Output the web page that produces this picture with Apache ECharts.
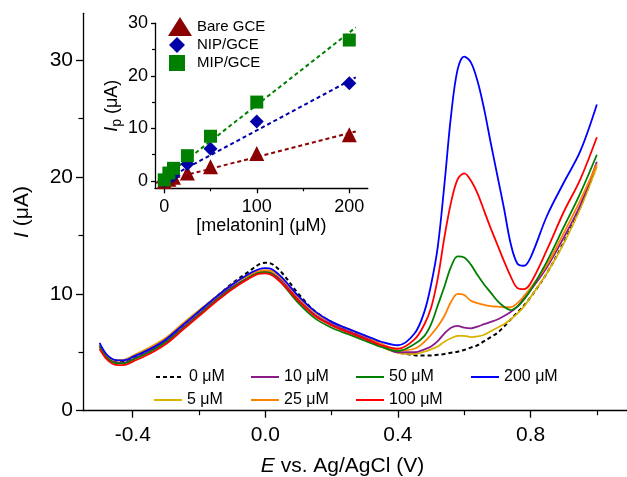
<!DOCTYPE html>
<html>
<head>
<meta charset="utf-8">
<script src="https://cdn.jsdelivr.net/npm/echarts@6/dist/echarts.min.js"></script>
<style>html,body{margin:0;padding:0;background:#fff}#c{width:627px;height:477px}</style>
</head>
<body>
<div id="c"></div>
<script>
// ---- main voltammograms ----
const E = [-0.5,-0.48,-0.46,-0.44,-0.42,-0.4,-0.35,-0.3,-0.25,-0.2,-0.15,-0.1,-0.05,-0.02,0,0.02,0.05,0.1,0.15,0.2,0.25,0.3,0.35,0.4,
  0.45,0.48,0.5,0.52,0.54,0.56,0.58,0.6,0.62,0.64,0.66,0.68,0.7,0.72,0.74,0.76,0.78,0.8,0.85,0.9,0.95,1.0];
const I0   = [5.6,4.7,4.3,4.2,4.3,4.55,5.25,6.1,7.3,8.5,9.7,10.9,11.9,12.5,12.65,12.55,11.8,10.0,8.5,7.6,6.9,6.2,5.5,5.0,
  4.75,4.72,4.72,4.78,4.85,4.95,5.05,5.2,5.4,5.6,5.95,6.3,6.65,7.2,7.8,8.4,9.0,9.7,11.8,14.4,17.4,21.0];
const I5   = [5.6,4.75,4.35,4.3,4.4,4.7,5.4,6.25,7.45,8.6,9.7,10.8,11.6,11.95,12.0,11.95,11.3,9.7,8.4,7.55,6.95,6.35,5.5,4.95,
  4.85,5.05,5.25,5.5,5.9,6.2,6.4,6.4,6.3,6.35,6.5,6.8,7.1,7.4,7.8,8.3,8.9,9.7,11.8,14.3,17.3,20.9];
const I10  = [5.5,4.65,4.2,4.1,4.15,4.4,5.1,5.95,7.1,8.3,9.5,10.6,11.4,11.8,11.85,11.75,11.1,9.5,8.2,7.4,6.8,6.25,5.6,5.0,
  5.0,5.25,5.5,5.95,6.6,7.1,7.25,7.1,7.05,7.2,7.4,7.6,7.8,8.1,8.45,8.9,9.6,10.3,12.3,14.8,17.6,21.3];
const I25  = [5.6,4.75,4.35,4.3,4.4,4.65,5.35,6.2,7.4,8.55,9.7,10.8,11.6,11.95,12.0,11.95,11.3,9.7,8.45,7.6,7.0,6.4,5.75,5.15,
  5.3,5.9,6.5,7.2,8.1,9.3,10.0,9.9,9.4,9.2,9.05,8.95,8.9,8.85,8.85,9.2,9.8,10.5,12.5,15.2,18.0,21.1];
const I50  = [5.5,4.6,4.15,4.05,4.1,4.35,5.0,5.85,7.0,8.2,9.4,10.5,11.4,11.8,11.85,11.7,10.9,9.2,7.9,7.1,6.55,6.0,5.45,5.1,
  5.7,6.4,7.4,9.0,10.6,12.3,13.2,13.1,12.5,11.6,10.8,10.1,9.4,8.9,8.6,8.9,9.5,10.3,12.8,15.7,18.6,21.9];
const I100 = [5.3,4.45,4.0,3.9,3.95,4.2,4.85,5.7,6.9,8.1,9.3,10.4,11.3,11.7,11.75,11.6,10.9,9.4,8.1,7.3,6.7,6.15,5.6,5.3,
  6.1,7.4,8.8,11.3,14.8,17.8,19.8,20.3,19.7,18.6,17.1,15.6,14.2,12.8,11.5,10.5,10.4,10.9,13.8,17.0,19.8,23.4];
const I200 = [5.8,4.85,4.4,4.3,4.35,4.6,5.25,6.1,7.3,8.5,9.7,10.8,11.7,12.1,12.2,12.1,11.4,9.8,8.5,7.6,7.0,6.45,5.9,5.6,
  6.6,8.5,10.8,14.0,19.3,25.2,29.2,30.3,29.8,28.2,25.8,22.9,20.1,17.3,14.3,12.6,12.4,13.1,16.7,19.5,22.2,26.2];
const curveNames = ['0 μM','5 μM','10 μM','25 μM','50 μM','100 μM','200 μM'];
const curveData = [I0,I5,I10,I25,I50,I100,I200];
const curveColors = ['#000000','#D9B300','#8B1A8B','#FF8000','#008000','#FF0000','#0000FF'];

// ---- inset calibration ----
const conc = [0,5,10,25,50,100,200];
const bareIp = [-0.1,0.3,0.7,1.5,2.7,5.2,8.8];
const nipIp  = [0,0.5,1.1,3.2,6.1,11.3,18.6];
const mipIp  = [0.2,1.5,2.4,4.8,8.5,15.0,26.8];
const fitXBare = [-9,207];
const fitXOther = [-2,207];
const bareFit = [-0.35,9.4];
const nipFit  = [0.0,19.7];
const mipFit  = [0.4,29.2];

// tick labels
const mainXLabels = [-0.4,0,0.4,0.8];
const mainXMinor = [-0.2,0.2,0.6,1.0];
const mainYLabels = [0,10,20,30];
const mainYMinor = [5,15,25];
const insXLabels = [0,100,200];
const insXMinor = [50,150];
const insYLabels = [0,10,20,30];
const insYMinor = [5,15,25];

const FF = '"Liberation Sans", Arial, sans-serif';
const pair = (xs, ys) => xs.map((x,i)=>[x, ys[i]]);
const axLine = {show:true, onZero:false, lineStyle:{color:'#000', width:1.3}};

function majorX(grid, min, max, vals, fmt, fs, len, lm, name, nameGap, nameStyle){
  return {type:'value', gridIndex:grid, min, max, position:'bottom',
    axisLine:axLine, splitLine:{show:false},
    axisTick:{show:true, inside:false, length:len, customValues:vals, lineStyle:{color:'#000', width:1.3}},
    axisLabel:{show:true, customValues:vals, formatter:fmt, fontSize:fs, fontFamily:FF, color:'#000', margin:lm},
    name, nameLocation:'middle', nameGap, nameTextStyle:nameStyle};
}
function minorX(grid, min, max, vals, len){
  return {type:'value', gridIndex:grid, min, max, position:'bottom', offset:0,
    axisLine:{show:false, onZero:false}, splitLine:{show:false}, axisLabel:{show:false},
    axisTick:{show:true, length:len, customValues:vals, lineStyle:{color:'#000', width:1.2}}};
}
function majorY(grid, min, max, vals, fs, len, name, nameGap, nameStyle){
  return {type:'value', gridIndex:grid, min, max, position:'left',
    axisLine:axLine, splitLine:{show:false},
    axisTick:{show:true, inside:false, length:len, customValues:vals, lineStyle:{color:'#000', width:1.3}},
    axisLabel:{show:true, customValues:vals, fontSize:fs, fontFamily:FF, color:'#000', margin:len+3},
    name, nameLocation:'middle', nameGap, nameRotate:90, nameTextStyle:nameStyle};
}
function minorY(grid, min, max, vals, len){
  return {type:'value', gridIndex:grid, min, max, position:'left', offset:0,
    axisLine:{show:false, onZero:false}, splitLine:{show:false}, axisLabel:{show:false},
    axisTick:{show:true, length:len, customValues:vals, lineStyle:{color:'#000', width:1.2}}};
}

const series = [];
curveNames.forEach((n,i)=>{
  series.push({name:n, type:'line', xAxisIndex:0, yAxisIndex:0, data:pair(E, curveData[i]),
    symbol:'none', smooth:0.35, color:curveColors[i],
    lineStyle:{color:curveColors[i], width: i===0?2:1.8, type: i===0?[4,3]:'solid'}, z: 2+i});
});
const insColors = ['#8B0000','#0000A8','#008000'];
[[fitXBare,bareFit],[fitXOther,nipFit],[fitXOther,mipFit]].forEach((f,i)=>{
  series.push({type:'line', xAxisIndex:2, yAxisIndex:2, data:pair(f[0],f[1]), symbol:'none',
    lineStyle:{color:insColors[i], width:2, type:[4,3]}, silent:true, z:10});
});
const insNames = ['Bare GCE','NIP/GCE','MIP/GCE'];
const insSym = ['triangle','diamond','rect'];
const insSize = [15,14,13];
[bareIp,nipIp,mipIp].forEach((d,i)=>{
  series.push({name:insNames[i], type:'scatter', xAxisIndex:2, yAxisIndex:2, data:pair(conc,d),
    symbol:insSym[i], symbolSize:insSize[i], itemStyle:{color:insColors[i], opacity:1}, z:11});
});

const legTxt = {fontSize:16, fontFamily:FF, color:'#000'};
const mainLeg = [
  ['0 μM',155,369],['10 μM',250,369],['50 μM',355,369],['200 μM',470,369],
  ['5 μM',153,392],['25 μM',250,392],['100 μM',355,392]
].map(a=>({data:[a[0]], left:a[1], top:a[2], itemWidth:28, itemHeight:14, itemGap:0,
  itemStyle:{opacity:0}, textStyle:legTxt, selectedMode:false, padding:0}));
const insLegTxt = {fontSize:15, fontFamily:FF, color:'#000'};
const insLeg = [
  {data:['Bare GCE'], left:168, top:17, itemWidth:24, itemHeight:19, textStyle:Object.assign({padding:[0,0,0,0]},insLegTxt)},
  {data:['NIP/GCE'], left:169, top:37, itemWidth:16, itemHeight:16, textStyle:Object.assign({padding:[0,0,0,7]},insLegTxt)},
  {data:['MIP/GCE'], left:169, top:55, itemWidth:16, itemHeight:16, textStyle:Object.assign({padding:[0,0,0,7]},insLegTxt)}
].map(l=>Object.assign(l,{selectedMode:false, padding:0, itemGap:0, itemStyle:{opacity:1}}));

const option = {
  animation:false,
  backgroundColor:'#fff',
  grid:[
    {left:83, top:13.3, width:547, height:397.4, containLabel:false, outerBoundsMode:'none'},
    {left:155, top:23.2, width:212.8, height:165.1, containLabel:false, outerBoundsMode:'none'}
  ],
  legend: mainLeg.concat(insLeg),
  xAxis:[
    majorX(0,-0.55,1.1,mainXLabels,v=>Number(v).toFixed(1),21,7,14,'{i|E} vs. Ag/AgCl (V)',45,
      {fontSize:21, fontFamily:FF, color:'#000', padding:[0,28,0,0], rich:{i:{fontStyle:'italic', fontSize:21, fontFamily:FF}}}),
    minorX(0,-0.55,1.1,mainXMinor,4.5),
    majorX(1,-10,220,insXLabels,v=>String(v),18,5,10,'[melatonin] (μM)',27,
      {fontSize:18, fontFamily:FF, color:'#000'}),
    minorX(1,-10,220,insXMinor,3)
  ],
  yAxis:[
    majorY(0,0,34,mainYLabels,21,7,'{i|I} (μA)',50,
      {fontSize:21, fontFamily:FF, color:'#000', rich:{i:{fontStyle:'italic', fontSize:21, fontFamily:FF}}}),
    minorY(0,0,34,mainYMinor,4.5),
    majorY(1,-1.4,30,insYLabels,18,4,'{i|I}{s|p} (μA)',30,
      {fontSize:18, fontFamily:FF, color:'#000', rich:{i:{fontStyle:'italic', fontSize:18, fontFamily:FF}, s:{fontSize:14, fontFamily:FF, padding:[10,0,0,0]}}}),
    minorY(1,-1.4,30,insYMinor,3)
  ],
  series
};
const chart = echarts.init(document.getElementById('c'), null, {renderer:'canvas'});
chart.setOption(option);
</script>
</body>
</html>
